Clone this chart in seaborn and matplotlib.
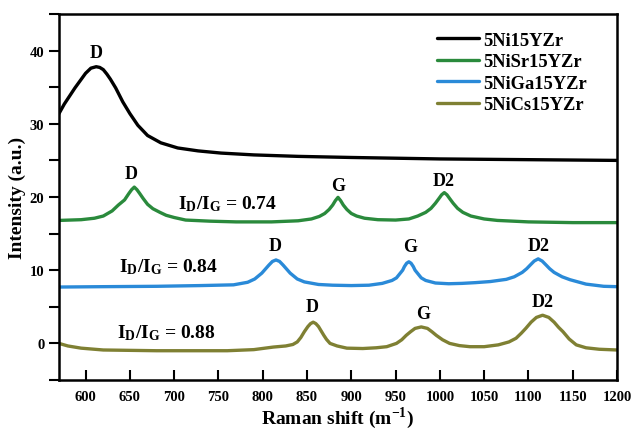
import numpy as np
import pandas as pd
import seaborn as sns
import matplotlib.pyplot as plt
from matplotlib.ticker import MultipleLocator

sns.set_style("ticks")
plt.rcParams['font.family'] = ['Liberation Serif', 'DejaVu Serif']
plt.rcParams['font.weight'] = 'bold'
plt.rcParams['mathtext.fontset'] = 'custom'
plt.rcParams['mathtext.bf'] = 'Liberation Serif:bold'
plt.rcParams['mathtext.rm'] = 'Liberation Serif:bold'
for k in ['axes.edgecolor', 'xtick.color', 'ytick.color', 'text.color', 'axes.labelcolor']:
    plt.rcParams[k] = 'black'

# 5Ni15YZr
x_ni = [570, 576, 582, 588, 594, 600, 606, 612, 616, 620, 624, 628, 634, 642, 650, 659,
        670, 685, 704, 727, 753, 790, 840, 900, 950, 1000, 1100, 1200]
y_ni = [31.4, 32.7, 33.8, 34.9, 35.9, 36.9, 37.6, 37.8, 37.7, 37.4, 36.8, 36.1, 34.9,
        33.0, 31.4, 29.8, 28.4, 27.4, 26.7, 26.3, 26.0, 25.75, 25.55, 25.4, 25.3, 25.2,
        25.1, 25.0]

# 5NiSr15YZr
x_sr = [570, 595, 610, 620, 630, 637, 644, 649, 652, 655, 658, 661, 665, 670, 676, 684,
        691, 700, 713, 740, 770, 810, 840, 855, 864, 870, 875, 879, 882, 885, 888, 891,
        895, 900, 906, 915, 930, 950, 965, 975, 984, 990, 995, 999, 1002, 1005, 1008,
        1011, 1015, 1020, 1026, 1035, 1050, 1065, 1100, 1150, 1200]
y_sr = [16.8, 16.9, 17.1, 17.4, 18.1, 18.9, 19.6, 20.5, 21.0, 21.35, 21.0, 20.5, 19.8,
        19.0, 18.4, 17.9, 17.5, 17.2, 16.85, 16.7, 16.6, 16.6, 16.75, 17.0, 17.35, 17.75,
        18.3, 18.9, 19.5, 19.95, 19.5, 18.9, 18.3, 17.75, 17.4, 17.1, 16.9, 16.85, 17.0,
        17.4, 17.9, 18.45, 19.15, 19.8, 20.3, 20.6, 20.3, 19.8, 19.15, 18.45, 17.9, 17.4,
        17.0, 16.8, 16.6, 16.5, 16.5]

# 5NiGa15YZr
x_ga = [570, 620, 680, 730, 767, 783, 791, 799, 803, 807, 811, 815, 819, 823, 827, 831,
        839, 847, 863, 879, 900, 920, 935, 946, 951, 955, 958, 960, 962.5, 965, 967.5,
        970, 972, 975, 979, 984, 995, 1010, 1025, 1040, 1057, 1075, 1084, 1093, 1098,
        1102, 1106.5, 1111, 1115.5, 1120, 1124, 1129, 1138, 1147, 1165, 1185, 1200]
y_ga = [7.7, 7.75, 7.8, 7.9, 8.0, 8.35, 8.8, 9.6, 10.15, 10.7, 11.2, 11.4, 11.2, 10.7,
        10.15, 9.6, 8.8, 8.4, 8.05, 7.95, 7.9, 7.95, 8.2, 8.6, 8.95, 9.55, 10.0, 10.5,
        10.95, 11.15, 10.95, 10.5, 10.0, 9.55, 8.95, 8.6, 8.25, 8.15, 8.2, 8.3, 8.45,
        8.75, 9.1, 9.7, 10.2, 10.7, 11.25, 11.55, 11.25, 10.7, 10.2, 9.7, 9.1, 8.7, 8.1,
        7.8, 7.75]

# 5NiCs15YZr
x_cs = [570, 580, 595, 620, 680, 760, 790, 812, 826, 834, 839, 843, 847, 851, 854, 857,
        860, 863, 866, 869, 872, 876, 884, 895, 913, 928, 940, 951, 957, 962, 967, 972,
        979, 986, 991, 996, 1003, 1011, 1022, 1034, 1050, 1066, 1078, 1086, 1092, 1097,
        1103, 1109, 1116, 1123, 1129, 1134, 1139, 1146, 1154, 1165, 1180, 1200]
y_cs = [0.0, -0.35, -0.65, -0.9, -1.0, -1.0, -0.85, -0.5, -0.35, -0.15, 0.2, 0.8, 1.6,
        2.3, 2.7, 2.9, 2.7, 2.3, 1.7, 1.1, 0.55, 0.0, -0.35, -0.65, -0.7, -0.6, -0.45,
        0.0, 0.5, 1.1, 1.6, 2.05, 2.25, 2.05, 1.6, 1.1, 0.5, 0.0, -0.3, -0.45, -0.45,
        -0.2, 0.2, 0.7, 1.4, 2.05, 2.9, 3.55, 3.85, 3.55, 2.9, 2.2, 1.6, 0.6, -0.2, -0.6,
        -0.8, -0.9]

names = ['5Ni15YZr', '5NiSr15YZr', '5NiGa15YZr', '5NiCs15YZr']
colors = ['#000000', '#2a8a3c', '#2a8ad8', '#7f8033']

# peak labels (x, y, text)
peak_x = [612, 652, 885, 1004, 814, 966, 1112, 856, 981, 1116]
peak_y = [39.8, 23.2, 21.6, 22.3, 13.4, 13.2, 13.4, 5.0, 4.1, 5.7]
peak_t = ['D', 'D', 'G', 'D2', 'D', 'G', 'D2', 'D', 'G', 'D2']

ratio_x = [704, 638, 635]
ratio_y = [19.1, 10.5, 1.6]
ratio_v = ['0.74', '0.84', '0.88']

fig = plt.figure(figsize=(6.33, 4.31), dpi=100)
ax = fig.add_axes([59/633, 1-381/431, 558/633, 366/431])

for xs, ys, nm, c in zip([x_ni, x_sr, x_ga, x_cs], [y_ni, y_sr, y_ga, y_cs], names, colors):
    d = pd.DataFrame({'x': xs, 'y': ys})
    sns.lineplot(data=d, x='x', y='y', color=c, lw=2.4, label=nm, ax=ax)

for px, py, t in zip(peak_x, peak_y, peak_t):
    ax.text(px, py, t, ha='center', va='center', fontsize=13, fontweight='bold')
for rx, ry, v in zip(ratio_x, ratio_y, ratio_v):
    ax.text(rx, ry, r'$\mathbf{I_D/I_G}$ = ' + v, ha='left', va='center',
            fontsize=14, fontweight='bold')

ax.set_xlim(570, 1200)
ax.set_ylim(-5, 45)
ax.xaxis.set_major_locator(MultipleLocator(50))
ax.yaxis.set_major_locator(MultipleLocator(10))
ax.yaxis.set_minor_locator(MultipleLocator(5))
ax.tick_params(axis='x', direction='in', length=7, width=1.5, labelsize=10.5, pad=7)
ax.tick_params(axis='y', direction='out', length=7, width=1.5, labelsize=10.5)
ax.tick_params(axis='y', which='minor', direction='out', length=7, width=1.5)
for s in ax.spines.values():
    s.set_linewidth(1.8)
    s.set_visible(True)
for lab in ax.get_xticklabels() + ax.get_yticklabels():
    lab.set_fontweight('bold')

ax.set_xlabel('Raman shift (m$^{\\mathbf{-1}}$)', fontsize=14, fontweight='bold', labelpad=1)
ax.set_ylabel('Intensity (a.u.)', fontsize=14, fontweight='bold', labelpad=3)

leg = ax.legend(loc='upper left', bbox_to_anchor=(0.677, 0.952), frameon=False,
                borderpad=0, borderaxespad=0, handlelength=2.3, handletextpad=0.2,
                labelspacing=0.25, prop={'weight': 'bold', 'size': 13.3})

fig.savefig('out.png', dpi=100)
